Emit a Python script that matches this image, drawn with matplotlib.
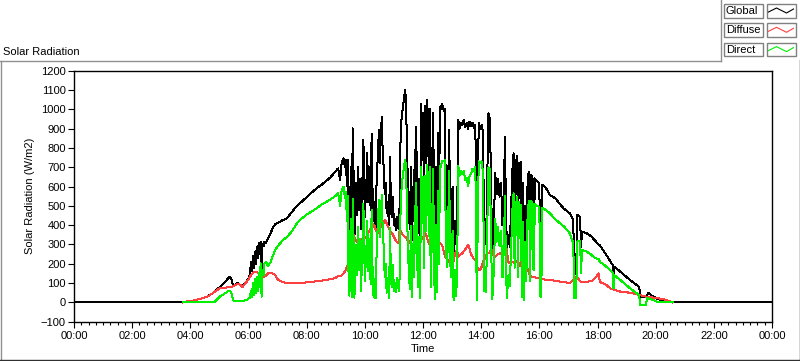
# -*- coding: utf-8 -*-
import numpy as np
import matplotlib
matplotlib.use("Agg")
import matplotlib.pyplot as plt
from matplotlib.lines import Line2D
from matplotlib.patches import Rectangle

plt.rcParams['font.family'] = ['Liberation Sans', 'DejaVu Sans']

# time of day in minutes, shared by the three series
minutes = [0, 225, 230, 245, 255, 265, 275, 285, 290, 300, 310, 318, 322, 326, 328, 332, 336, 340,
           344, 348, 352, 356, 360, 363, 365, 367, 369, 371, 373, 375, 377, 379, 381, 383, 385,
           387, 389, 391, 393, 396, 400, 405, 410, 415, 420, 430, 440, 450, 460, 470, 480, 490,
           500, 510, 520, 530, 540, 545,
           549, 552, 556, 559, 561, 563, 565, 566, 568, 569, 570, 571, 572, 573, 575, 576, 578,
           580, 582, 584, 586, 588, 590, 592, 594, 597, 600, 603, 605, 607, 609, 612, 614, 616,
           618, 620, 622, 624, 627, 629, 631, 633, 635, 637, 639, 641, 643, 645, 647, 650, 652,
           654, 656, 658, 660, 662, 664, 666, 668, 670, 672, 674, 677, 680, 683, 685, 687, 689,
           691, 693, 695, 697, 699, 701, 703, 705, 706, 708, 710, 712, 714, 716, 718, 720, 722,
           724, 726, 728, 730, 732, 734, 736, 738, 741, 743, 745, 747, 749, 751, 753, 755, 757,
           759, 761, 763, 765, 767, 769, 771, 774, 776, 778, 781, 783, 786, 788, 790, 793, 795,
           798, 801, 804, 807, 810, 813, 816, 819, 822, 825, 828, 831, 833, 835, 838, 841, 844,
           846, 848, 850, 853, 855, 858, 861, 863, 866, 869, 872, 875, 878, 881, 884, 887, 889,
           891, 893, 896, 899, 902, 905, 907, 909, 911, 914, 916, 918, 920, 922, 924, 926, 928,
           930, 933, 936, 939, 941, 943, 946, 948, 951, 954, 957, 960, 962, 964, 966, 972, 982,
           993, 1010, 1023, 1030, 1032, 1036, 1038, 1044, 1046, 1048, 1058, 1068, 1075, 1082,
           1085, 1096, 1106, 1109, 1112, 1113, 1115, 1127, 1147, 1166, 1168, 1180, 1182, 1184,
           1195, 1206, 1223, 1235, 1440]

global_rad = [0, 0, 4, 8, 15, 22, 30, 45, 58, 78, 100, 125, 133, 115, 85, 90, 99, 97,
              88, 82, 100, 110, 125, 142, 210, 160, 240, 180, 260, 200, 288, 230, 310, 250, 315,
              160, 300, 290, 315, 310, 330, 355, 385, 405, 412, 425, 437, 470, 500, 522, 545, 568,
              590, 608, 628, 650, 680, 694,
              634, 720, 746, 700, 737, 600, 740, 380, 254, 600, 320, 700, 420, 306, 901, 850, 323,
              400, 620, 450, 700, 480, 640, 380, 520, 841, 444, 600, 772, 520, 700, 480, 875, 560,
              420, 520, 380, 600, 780, 893, 720, 860, 961, 760, 700, 560, 620, 461, 520, 400, 755,
              470, 440, 547, 400, 430, 375, 440, 400, 380, 520, 910, 980, 1040, 1100, 1048, 789, 600,
              450, 380, 700, 323, 600, 420, 790, 540, 910, 480, 360, 640, 320, 1030, 800, 980, 500,
              1020, 720, 1048, 979, 650, 1000, 375, 600, 979, 420, 289, 700, 360, 880, 500, 1014, 1000,
              1030, 1010, 990, 1000, 600, 410, 500, 893, 420, 340, 600, 220, 420, 300, 380, 944, 900,
              930, 920, 944, 910, 930, 900, 935, 915, 930, 905, 920, 185, 600, 930, 900, 920, 880,
              289, 400, 300, 700, 979, 950, 520, 254, 400, 668, 560, 640, 547, 620, 400, 580, 858,
              500, 289, 350, 289, 500, 720, 772, 380, 700, 760, 340, 720, 600, 729, 240, 617, 202,
              500, 300, 650, 677, 254, 660, 640, 300, 642, 630, 625, 617, 134, 134, 610, 599, 556,
              539, 487, 461, 427, 142, 150, 453, 444, 289, 366, 358, 340, 320, 300,
              295, 254, 215, 202, 195, 110, 185, 159, 116, 81, 30, 30, 30, 50,
              30, 16, 4, 0, 0]

diffuse_rad = [None, 0, 4, 8, 15, 22, 30, 45, 55, 72, 75, 78, 80, 82, 84, 88, 95, 95,
               88, 80, 95, 105, 120, 133, 140, 145, 150, 155, 158, 160, 159, 155, 150, 150, 150,
               148, 140, 135, 133, 138, 150, 152, 150, 142, 120, 105, 100, 98, 98, 100, 104, 106,
               110, 112, 117, 120, 128, 137,
               135, 140, 150, 160, 170, 185, 195, 200, 220, 230, 250, 271, 300, 330, 366, 360, 340,
               325, 318, 312, 310, 306, 310, 318, 325, 330, 335, 340, 350, 360, 370, 385, 395, 405,
               392, 400, 380, 370, 360, 365, 380, 395, 409, 400, 415, 427, 420, 410, 395, 383, 370,
               360, 358, 350, 340, 330, 320, 315, 306, 320, 383, 370, 355, 345, 340, 335, 325, 320,
               315, 310, 305, 300, 295, 290, 289, 285, 285, 271, 280, 300, 323, 330, 340, 330, 320,
               366, 350, 340, 320, 306, 300, 295, 290, 289, 295, 290, 300, 305, 306, 300, 306, 300,
               300, 280, 260, 240, 230, 225, 220, 210, 202, 210, 230, 215, 250, 265, 271, 237, 245,
               250, 254, 265, 275, 285, 297, 280, 250, 237, 225, 220, 190, 175, 168, 170, 185, 210,
               220, 230, 245, 254, 254, 260, 280, 250, 240, 237, 245, 250, 254, 250, 270, 290, 306,
               290, 270, 210, 202, 205, 210, 205, 200, 210, 215, 210, 200, 190, 220, 215, 200, 190,
               185, 190, 170, 150, 140, 135, 133, 133, 130, 128, 127, 125, 125, 123, 122, 118, 116,
               112, 105, 100, 116, 120, 133, 130, 110, 107, 107, 107, 110, 125, 150,
               105, 95, 73, 70, 68, 66, 65, 56, 50, 38, 37, 30, 30, 29,
               25, 21, 12, 0, None]

direct_rad = [None, 0, 0, 0, 0, 0, 0, 0, 3, 28, 45, 58, 61, 38, 10, 7, 6, 6,
              7, 8, 10, 12, 20, 25, 60, 30, 100, 40, 120, 50, 133, 60, 150, 80, 202,
              30, 170, 140, 200, 211, 190, 205, 240, 270, 290, 320, 340, 370, 410, 435, 455, 470,
              487, 505, 520, 535, 552, 565,
              500, 580, 600, 540, 570, 420, 550, 180, 35, 370, 60, 430, 120, 30, 535, 490, 25,
              75, 300, 140, 390, 170, 330, 60, 200, 510, 110, 260, 420, 160, 330, 95, 480, 155,
              30, 120, 20, 230, 420, 530, 340, 465, 555, 360, 285, 130, 200, 50, 125, 25, 385,
              110, 80, 195, 60, 100, 55, 125, 95, 60, 140, 540, 625, 690, 737, 710, 460, 280,
              135, 70, 395, 25, 305, 130, 500, 255, 620, 210, 80, 340, 20, 700, 460, 650, 180,
              655, 370, 710, 660, 345, 700, 80, 310, 690, 125, 15, 400, 55, 575, 200, 708, 700,
              730, 730, 730, 740, 370, 185, 280, 683, 218, 130, 370, 10, 170, 35, 110, 707, 655,
              680, 666, 680, 635, 645, 603, 655, 665, 693, 680, 700, 10, 425, 730, 720, 730, 670,
              60, 170, 55, 445, 700, 690, 240, 15, 160, 430, 315, 390, 290, 370, 130, 290, 550,
              210, 20, 140, 85, 295, 510, 565, 180, 490, 545, 130, 520, 410, 505, 25, 415, 12,
              315, 110, 480, 525, 110, 525, 510, 165, 512, 502, 498, 496, 30, 30, 488, 481, 461,
              430, 395, 358, 306, 21, 21, 315, 320, 151, 271, 263, 245, 230, 225,
              210, 190, 168, 160, 150, 73, 140, 116, 73, 38, -13, -13, 21, 21,
              12, 0, 0, 0, None]

t_hours = np.array(minutes) / 60.0
g = np.array(global_rad, dtype=float)
d = np.array(diffuse_rad, dtype=float)
b = np.array(direct_rad, dtype=float)

fig = plt.figure(figsize=(8.0, 3.61), dpi=100)
ax = fig.add_axes([74 / 800, 1 - 321.7 / 361, 698 / 800, 251 / 361])

lw = 0.72
ax.plot(t_hours, g, color='#000000', lw=lw, zorder=3, antialiased=False)
ax.plot(t_hours, d, color='#ff4040', lw=lw, zorder=4, antialiased=False)
ax.plot(t_hours, b, color='#00f000', lw=lw, zorder=5, antialiased=False)

ax.set_xlim(0, 24)
ax.set_ylim(-100, 1200)
ax.set_yticks(np.arange(-100, 1201, 100))
ax.set_xticks(np.arange(0, 25, 2))
ax.set_xticklabels(['%02d:00' % (h % 24) for h in range(0, 25, 2)])
ax.set_xticks(np.arange(0, 24.01, 0.25), minor=True)
ax.tick_params(axis='both', which='major', direction='out', length=4, width=0.8,
               labelsize=8, pad=2)
ax.tick_params(axis='x', which='minor', direction='out', length=2.5, width=0.8)
ax.tick_params(axis='x', which='major', length=4.5)
for s in ax.spines.values():
    s.set_linewidth(1.0)
ax.set_ylabel('Solar Radiation (W/m2)', fontsize=8, labelpad=4)
ax.set_xlabel('Time', fontsize=8, labelpad=2)

# panel frame
def px(x, y):
    return x / 800, 1 - y / 361

def fline(x0, y0, x1, y1, color, lw=1.0):
    (a, b0), (c, e) = px(x0, y0), px(x1, y1)
    fig.add_artist(Line2D([a, c], [b0, e], transform=fig.transFigure, color=color, lw=lw))

fline(0, 61, 721, 61, '#909090')
fline(0.5, 61, 0.5, 360, '#909090')
fline(0, 359.5, 800, 359.5, '#303030')
fline(799.5, 60, 799.5, 360, '#303030')
fline(721, 0, 721, 61, '#909090')

fig.text(3 / 800, 1 - 52 / 361, 'Solar Radiation', fontsize=8, va='center', ha='left')

# legend boxes
names = ['Global', 'Diffuse', 'Direct']
colors = ['#000000', '#ff4040', '#00f000']
for i, (nm, c) in enumerate(zip(names, colors)):
    top = 4 + i * 19.3
    x0, y0 = px(724, top + 13.5)
    fig.add_artist(Rectangle((x0, y0), 39 / 800, 13.5 / 361, transform=fig.transFigure,
                             fill=False, edgecolor='#808080', lw=1.0))
    fig.text(726 / 800, 1 - (top + 7) / 361, nm, fontsize=8, va='center', ha='left')
    x1, y1 = px(767, top + 13.5)
    fig.add_artist(Rectangle((x1, y1), 29 / 800, 13.5 / 361, transform=fig.transFigure,
                             fill=False, edgecolor='#808080', lw=1.0))
    zx = [768.5, 776.5, 786.5, 793.5]
    zy = [top + 8, top + 4, top + 9, top + 5]
    fig.add_artist(Line2D([v / 800 for v in zx], [1 - v / 361 for v in zy],
                          transform=fig.transFigure, color=c, lw=0.8))

fig.savefig('out.png', dpi=100)
